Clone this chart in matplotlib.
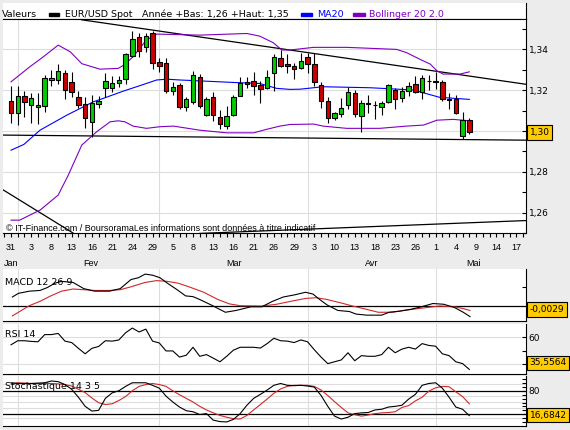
import matplotlib
matplotlib.use('Agg')
import matplotlib.pyplot as plt
from matplotlib.patches import Rectangle
from matplotlib.transforms import blended_transform_factory as blend
import numpy as np

# ---------------- data ----------------
days = list(range(69))
opens = [1.3145, 1.3086, 1.3174, 1.3129, 1.3116, 1.3124, 1.3251, 1.3248, 1.3282, 1.3238,
         1.3165, 1.3132, 1.3045, 1.3130, 1.3209, 1.3210, 1.3233, 1.3253, 1.3369, 1.3462,
         1.3413, 1.3478, 1.3336, 1.3331, 1.3197, 1.3225, 1.3119, 1.3140, 1.3266, 1.3078,
         1.3168, 1.3070, 1.3024, 1.3078, 1.3173, 1.3240, 1.3246, 1.3225, 1.3209, 1.3282,
         1.3359, 1.3326, 1.3320, 1.3307, 1.3364, 1.3328, 1.3225, 1.3147, 1.3062, 1.3081,
         1.3127, 1.3184, 1.3075, 1.3135, 1.3128, 1.3119, 1.3143, 1.3200, 1.3160, 1.3196,
         1.3228, 1.3189, 1.3243, 1.3245, 1.3238, 1.3156, 1.3156, 1.2976, 1.3056]
highs = [1.3220, 1.3222, 1.3197, 1.3184, 1.3184, 1.3274, 1.3297, 1.3329, 1.3297, 1.3289,
         1.3196, 1.3168, 1.3176, 1.3173, 1.3284, 1.3269, 1.3269, 1.3380, 1.3490, 1.3478,
         1.3478, 1.3490, 1.3356, 1.3356, 1.3241, 1.3233, 1.3168, 1.3294, 1.3277, 1.3168,
         1.3192, 1.3102, 1.3122, 1.3176, 1.3266, 1.3266, 1.3290, 1.3244, 1.3298, 1.3375,
         1.3396, 1.3375, 1.3331, 1.3380, 1.3380, 1.3380, 1.3241, 1.3168, 1.3094, 1.3160,
         1.3217, 1.3200, 1.3151, 1.3176, 1.3147, 1.3147, 1.3230, 1.3209, 1.3217, 1.3241,
         1.3271, 1.3274, 1.3274, 1.3290, 1.3250, 1.3184, 1.3176, 1.3094, 1.3066]
lows = [1.3040, 1.3029, 1.3070, 1.3040, 1.3034, 1.3091, 1.3220, 1.3228, 1.3156, 1.3165,
        1.3111, 1.3017, 1.2972, 1.3111, 1.3165, 1.3192, 1.3217, 1.3230, 1.3364, 1.3364,
        1.3388, 1.3302, 1.3290, 1.3187, 1.3176, 1.3106, 1.3099, 1.3130, 1.3115, 1.3073,
        1.3050, 1.3012, 1.3008, 1.3075, 1.3171, 1.3209, 1.3176, 1.3135, 1.3204, 1.3196,
        1.3315, 1.3282, 1.3253, 1.3304, 1.3282, 1.3220, 1.3111, 1.3037, 1.3053, 1.3070,
        1.3106, 1.3070, 1.2996, 1.3086, 1.3061, 1.3078, 1.3138, 1.3106, 1.3143, 1.3173,
        1.3187, 1.3156, 1.3200, 1.3205, 1.3147, 1.3106, 1.3081, 1.2960, 1.2983]
closes = [1.3089, 1.3171, 1.3143, 1.3161, 1.3127, 1.3262, 1.3262, 1.3292, 1.3199, 1.3189,
          1.3129, 1.3062, 1.3137, 1.3147, 1.3243, 1.3233, 1.3248, 1.3377, 1.3450, 1.3392,
          1.3467, 1.3331, 1.3320, 1.3197, 1.3217, 1.3119, 1.3156, 1.3274, 1.3124, 1.3159,
          1.3078, 1.3034, 1.3075, 1.3168, 1.3236, 1.3230, 1.3220, 1.3205, 1.3266, 1.3361,
          1.3320, 1.3318, 1.3302, 1.3344, 1.3326, 1.3238, 1.3147, 1.3065, 1.3086, 1.3111,
          1.3189, 1.3081, 1.3135, 1.3132, 1.3125, 1.3135, 1.3225, 1.3155, 1.3196, 1.3222,
          1.3192, 1.3258, 1.3243, 1.3241, 1.3155, 1.3151, 1.3086, 1.3056, 1.2993]

ma20_day = [0, 1.9, 4.3, 8.3, 12.2, 13.7, 16.7, 19.1, 21.6, 23.1, 25.1, 33.0, 36.9, 39.4,
            41.4, 42.9, 46.3, 53.3, 59.7, 61.2, 63.6, 68.0]
ma20_val = [1.2906, 1.2934, 1.3004, 1.3078, 1.3143, 1.3160, 1.3196, 1.3222, 1.3250, 1.3254,
            1.3250, 1.3238, 1.3233, 1.3209, 1.3204, 1.3205, 1.3217, 1.3212, 1.3201, 1.3187,
            1.3165, 1.3155]

boll_up_day = [0, 2.8, 4.8, 7.0, 8.8, 10.5, 13.2, 15.9, 16.9, 18.1, 20.1, 21.6, 28.0, 35.0,
               36.9, 38.9, 40.2, 41.4, 44.9, 49.8, 57.2, 58.7, 60.7, 62.2, 63.2, 64.1, 66.6, 68.0]
boll_up_val = [1.3241, 1.3315, 1.3364, 1.3421, 1.3388, 1.3330, 1.3303, 1.3307, 1.3326, 1.3364,
               1.3446, 1.3475, 1.3470, 1.3478, 1.3465, 1.3433, 1.3397, 1.3397, 1.3410, 1.3410,
               1.3400, 1.3384, 1.3351, 1.3328, 1.3295, 1.3279, 1.3279, 1.3290]

boll_lo_day = [0, 1.3, 2.8, 4.3, 5.8, 7.0, 8.5, 10.5, 12.7, 14.7, 15.9, 16.9, 18.1, 20.1, 22.1,
               24.1, 28.0, 32.0, 36.0, 37.9, 39.9, 41.4, 44.9, 46.3, 49.8, 54.7, 58.7, 61.2,
               63.2, 65.6, 68.0]
boll_lo_val = [1.2563, 1.2563, 1.2588, 1.2612, 1.2653, 1.2686, 1.2784, 1.2931, 1.2996, 1.3045,
               1.3050, 1.3045, 1.3024, 1.3013, 1.3021, 1.3024, 1.3004, 1.2991, 1.2991, 1.3008,
               1.3024, 1.3032, 1.3034, 1.3024, 1.3013, 1.3013, 1.3024, 1.3029, 1.3053, 1.3057,
               1.3050]

# drawn trend lines (day, price)
resist_day = [10.5, 76.4]
resist_val = [1.3545, 1.3229]
support_day = [-1.2, 76.4]
support_val = [1.2980, 1.2955]
old_line_day = [-1.2, 9.2]
old_line_val = [1.2712, 1.2500]
rising_day = [28.0, 76.4]
rising_val = [1.2498, 1.2561]

macd_day = [0.2, 1.1, 2.7, 4.3, 5.4, 6.5, 7.5, 9.2, 10.8, 12.4, 14.6, 16.2, 17.8, 18.9, 19.9,
            21.0, 22.1, 23.2, 24.8, 25.9, 27.0, 28.0, 29.7, 31.8, 33.4, 35.6, 37.2, 38.8, 40.4,
            42.1, 43.7, 44.8, 45.8, 46.9, 48.5, 50.2, 51.2, 52.8, 55.0, 56.1, 57.7, 59.3, 60.9,
            62.6, 64.2, 65.8, 67.1, 68.1]
macd_val = [.00235, .00334, .00392, .00412, .00491, .00608, .00657, .00628, .00461, .00392,
            .00392, .00461, .00706, .00755, .00853, .00824, .00755, .00608, .00412, .00265,
            .00245, .00167, .00020, -.00177, -.00128, -.00029, -.00029, .00118, .00235, .00294,
            .00363, .00314, .00167, .00020, -.00128, -.00157, -.00226, -.00255, -.00255, -.00177,
            -.00147, -.00098, -.00029, .00059, .00039, -.00049, -.00177, -.00294]
signal_day = [0.2, 1.1, 2.7, 4.3, 5.9, 7.5, 9.2, 10.8, 12.4, 14.6, 16.2, 17.8, 19.9, 21.6, 23.2,
              24.8, 26.4, 28.6, 30.7, 32.4, 34.0, 37.2, 39.4, 41.5, 43.7, 45.3, 46.9, 49.1, 50.7,
              52.3, 54.5, 56.6, 58.2, 60.4, 62.6, 63.6, 65.8, 67.1, 68.1]
signal_val = [-.00275, -.00177, 0.0, .00118, .00265, .00392, .00451, .00432, .00412, .00412,
              .00432, .00510, .00628, .00677, .00657, .00608, .00510, .00363, .00167, .00049,
              0.0, -.0001, .00039, .00118, .00196, .00216, .00167, .00069, -.0001, -.00078,
              -.00177, -.00177, -.00128, -.00078, -.00029, -.0001, -.00029, -.00078, -.00128]

rsi_val = [54.4, 57.5, 57.5, 57.0, 56.7, 62.2, 62.2, 63.1, 57.2, 56.1,
           51.7, 47.5, 51.7, 53.1, 57.5, 57.2, 58.1, 63.6, 67.2, 64.2,
           66.4, 57.2, 55.8, 49.7, 49.7, 45.0, 46.4, 52.5, 45.6, 46.9,
           44.2, 41.4, 45.6, 50.3, 52.5, 52.5, 52.5, 51.9, 55.3, 59.4,
           57.5, 57.2, 56.1, 58.1, 56.7, 50.6, 45.0, 40.0, 41.4, 42.8,
           48.3, 42.2, 46.1, 45.6, 45.6, 46.9, 52.5, 48.3, 51.1, 52.5,
           51.1, 55.3, 53.9, 53.3, 47.5, 46.1, 41.4, 40.0, 35.5564]

stoch_k = [100.3, 98.5, 98.5, 98.5, 99.4, 100.3, 104.9, 103.1, 95.7, 83.7,
           63.4, 40.3, 28.3, 30.1, 60.6, 74.5, 80.0, 91.1, 100.3, 100.3,
           100.3, 93.8, 86.5, 66.2, 51.4, 38.5, 29.2, 26.5, 19.5, 21.8,
           5.2, 1.5, 0.6, 7.1, 21.8, 43.1, 60.6, 70.8, 81.8, 93.8,
           98.5, 93.8, 92.9, 93.8, 92.0, 89.2, 68.0, 40.3, 15.4, 8.0,
           12.6, 21.8, 23.7, 24.6, 31.1, 32.9, 38.5, 40.3, 43.1, 58.8,
           70.8, 93.8, 98.5, 100.3, 86.5, 63.4, 38.5, 32.9, 16.6842]
stoch_d = [97.5, 100.3, 99.4, 98.5, 98.5, 98.5, 98.5, 97.5, 95.7, 92.0,
           83.7, 75.4, 61.5, 49.5, 44.9, 46.8, 55.1, 65.2, 80.0, 91.1,
           95.7, 98.5, 95.7, 91.1, 80.0, 69.8, 60.6, 51.4, 40.3, 31.1,
           23.7, 17.2, 12.6, 8.9, 8.0, 17.2, 31.1, 44.9, 58.8, 73.5,
           84.6, 91.1, 93.8, 93.8, 93.8, 91.1, 81.8, 68.0, 52.3, 37.5,
           23.7, 19.1, 15.4, 18.2, 21.8, 23.7, 24.6, 26.5, 37.5, 42.2,
           54.2, 63.4, 79.1, 87.4, 91.1, 90.2, 77.2, 65.2, 46.8]

date_labels = ['31', '3', '8', '13', '16', '21', '24', '29', '5', '8', '13', '16', '21', '26',
               '29', '3', '10', '13', '18', '23', '26', '1', '4', '9', '14', '17']
date_label_days = list(range(0, 76, 3))
month_names = ['Jan', 'Fev', 'Mar', 'Avr', 'Mai']
month_name_days = [-1.0, 10.7, 31.9, 52.5, 67.6]
month_start_days = [1, 22, 44, 63]

# ---------------- style ----------------
W, H = 570, 430
BG = '#ECECEC'
GREEN = '#00CC00'
RED = '#CC0000'
PURPLE = '#8000C0'
BLUE = '#0000FF'
GRID = '#DDDDDD'
BOX = '#FFCC00'
LW = 0.8

fig = plt.figure(figsize=(W / 100, H / 100), dpi=100, facecolor=BG)


def rect(x0, y0, x1, y1):
    return [x0 / W, 1 - y1 / H, (x1 - x0) / W, (y1 - y0) / H]


def comma(v, fmt):
    return format(v, fmt).replace('.', ',')


X0, X1 = 3, 526
XLIM = (-1.19, 76.41)
ax_head = fig.add_axes(rect(X0, 3, X1, 19))
ax = fig.add_axes(rect(X0, 19, X1, 233))
ax_macd = fig.add_axes(rect(X0, 269.4, X1, 320.6))
ax_rsi = fig.add_axes(rect(X0, 324.4, X1, 373.8))
ax_sto = fig.add_axes(rect(X0, 375.5, X1, 426.3))

# header band
ax_head.set_xticks([]); ax_head.set_yticks([])
for s in ['top', 'left']:
    ax_head.spines[s].set_visible(False)
for s in ['bottom', 'right']:
    ax_head.spines[s].set_linewidth(LW)


def ftxt(x, y, s, **kw):
    fig.text(x / W, 1 - y / H, s, va='baseline', ha='left', **kw)


def swatch(x0, x1, color):
    fig.patches.append(Rectangle((x0 / W, 1 - 15.7 / H), (x1 - x0) / W, 2.4 / H,
                                 transform=fig.transFigure, color=color, zorder=5))


HF = 6.8
ftxt(1.7, 17.3, 'Valeurs', fontsize=HF, color='black')
swatch(49.3, 59.3, 'black')
ftxt(65, 17.3, 'EUR/USD Spot', fontsize=HF, color='black')
ftxt(141.7, 17.3, 'Année +Bas: 1,26 +Haut: 1,35', fontsize=HF, color='black')
swatch(300.7, 311.7, BLUE)
ftxt(316.7, 17.3, 'MA20', fontsize=HF, color=BLUE)
swatch(353.3, 365.0, PURPLE)
ftxt(369.3, 17.3, 'Bollinger 20 2.0', fontsize=HF, color=PURPLE)

# common panel styling
for a in [ax, ax_macd, ax_rsi, ax_sto]:
    a.set_xlim(*XLIM)
    a.set_facecolor('white')
    a.spines['left'].set_visible(False)
    a.spines['right'].set_linewidth(LW)
    a.spines['bottom'].set_linewidth(LW)
    a.yaxis.tick_right()
    for d in month_start_days:
        a.axvline(d, color=GRID, lw=LW, zorder=0)
for a in [ax_macd, ax_rsi, ax_sto]:
    a.spines['top'].set_visible(False)
    a.tick_params(axis='x', bottom=False, labelbottom=False)
    a.tick_params(axis='y', which='both', direction='in', length=3, width=LW,
                  labelsize=6.5, pad=2)
ax.spines['top'].set_linewidth(LW)

# ---------------- main price panel ----------------
ax.set_ylim(1.25, 1.3549)
yt = [1.26, 1.28, 1.30, 1.32, 1.34]
ax.set_yticks(yt)
ax.set_yticklabels([comma(v, '.2f') for v in yt])
ax.set_yticks(np.arange(1.25, 1.3501, 0.01), minor=True)
ax.tick_params(axis='y', which='both', direction='in', length=3, width=LW, labelsize=6.5, pad=2)
for v in yt:
    ax.axhline(v, color=GRID, lw=LW, zorder=0)

ax.set_xticks(date_label_days)
ax.set_xticklabels(date_labels, fontfamily='Liberation Sans')
ax.set_xticks(range(-1, 77), minor=True)
ax.tick_params(axis='x', which='both', direction='out', length=3, width=LW, labelsize=6.5, pad=4)
tr = blend(ax.transData, ax.transAxes)
for name, d in zip(month_names, month_name_days):
    ax.text(d, -0.144, name, transform=tr, fontsize=6.5, fontfamily='Liberation Sans',
            va='center', ha='left')

ax.text(0.006, 0.01, '© IT-Finance.com / BoursoramaLes informations sont données à titre indicatif',
        transform=ax.transAxes, fontsize=6.5, fontfamily='Liberation Sans', va='baseline', zorder=6)

# trend lines
ax.plot(resist_day, resist_val, color='black', lw=0.9, zorder=2)
ax.plot(support_day, support_val, color='black', lw=0.9, zorder=2)
ax.plot(old_line_day, old_line_val, color='black', lw=0.9, zorder=2)
ax.plot(rising_day, rising_val, color='black', lw=0.9, zorder=2)

# bollinger + MA
ax.plot(boll_up_day, boll_up_val, color=PURPLE, lw=LW, zorder=2)
ax.plot(boll_lo_day, boll_lo_val, color=PURPLE, lw=LW, zorder=2)
ax.plot(ma20_day, ma20_val, color=BLUE, lw=LW, zorder=2)

# candles
o = np.array(opens); c = np.array(closes)
hi = np.array(highs); lo = np.array(lows)
cols = [GREEN if cc > oo else RED for oo, cc in zip(o, c)]
ax.vlines(days, lo, hi, color='black', lw=LW, zorder=3)
ax.bar(days, np.maximum(np.abs(c - o), 0.00004), bottom=np.minimum(o, c), width=0.66,
       color=cols, edgecolor='black', linewidth=LW, zorder=4)


def value_box(a, v, txt, clamp=True):
    lo_, hi_ = a.get_ylim()
    f = (v - lo_) / (hi_ - lo_)
    if clamp:
        f = min(max(f, 0.22), 0.78)
    a.text(1.0 + 3.5 / (X1 - X0), f, txt, transform=a.transAxes, fontsize=6.5,
           va='center', ha='left', zorder=10, clip_on=False,
           bbox=dict(boxstyle='square,pad=0.3', fc=BOX, ec='black', lw=LW))


value_box(ax, closes[-1], comma(closes[-1], '.2f'), clamp=False)

# ---------------- MACD ----------------
ax_macd.set_ylim(-0.00402, 0.0098)
ax_macd.set_yticks([0.005])
ax_macd.set_yticklabels([''])
ax_macd.axhline(0, color='black', lw=0.9, zorder=1)
ax_macd.plot(signal_day, signal_val, color='#D02828', lw=LW, zorder=3)
ax_macd.plot(macd_day, macd_val, color='black', lw=LW, zorder=3)
ax_macd.text(0.003, 0.695, 'MACD 12 26 9', transform=ax_macd.transAxes, fontsize=6.8,
             va='baseline', ha='left', zorder=5)
value_box(ax_macd, macd_val[-1], comma(macd_val[-1], '.4f'))

# ---------------- RSI ----------------
ax_rsi.set_ylim(32.2, 70)
ax_rsi.set_yticks([40, 50, 60])
ax_rsi.set_yticklabels(['', '', '60'])
for v in [40, 60]:
    ax_rsi.axhline(v, color=GRID, lw=LW, zorder=0)
ax_rsi.plot(days, rsi_val, color='black', lw=LW, zorder=3)
ax_rsi.text(0.003, 0.745, 'RSI 14', transform=ax_rsi.transAxes, fontsize=6.8,
            va='baseline', ha='left', zorder=5)
value_box(ax_rsi, rsi_val[-1], comma(rsi_val[-1], '.4f'))

# ---------------- Stochastic ----------------
ax_sto.set_ylim(-10.5, 118.8)
st = list(range(0, 111, 10))
ax_sto.set_yticks(st)
ax_sto.set_yticklabels(['80' if v == 80 else '' for v in st])
for v in [10, 37, 51, 66, 96]:
    ax_sto.axhline(v, color=GRID, lw=LW, zorder=0)
for v in [20, 80]:
    ax_sto.axhline(v, color='black', lw=0.9, zorder=1)
ax_sto.plot(days, stoch_d, color='#D02828', lw=LW, zorder=3)
ax_sto.plot(days, stoch_k, color='black', lw=LW, zorder=3)
ax_sto.text(0.003, 0.725, 'Stochastique 14 3 5', transform=ax_sto.transAxes, fontsize=6.8,
            va='baseline', ha='left', zorder=5)
value_box(ax_sto, stoch_k[-1], comma(stoch_k[-1], '.4f'))

fig.savefig('out.png', dpi=100, facecolor=BG)
